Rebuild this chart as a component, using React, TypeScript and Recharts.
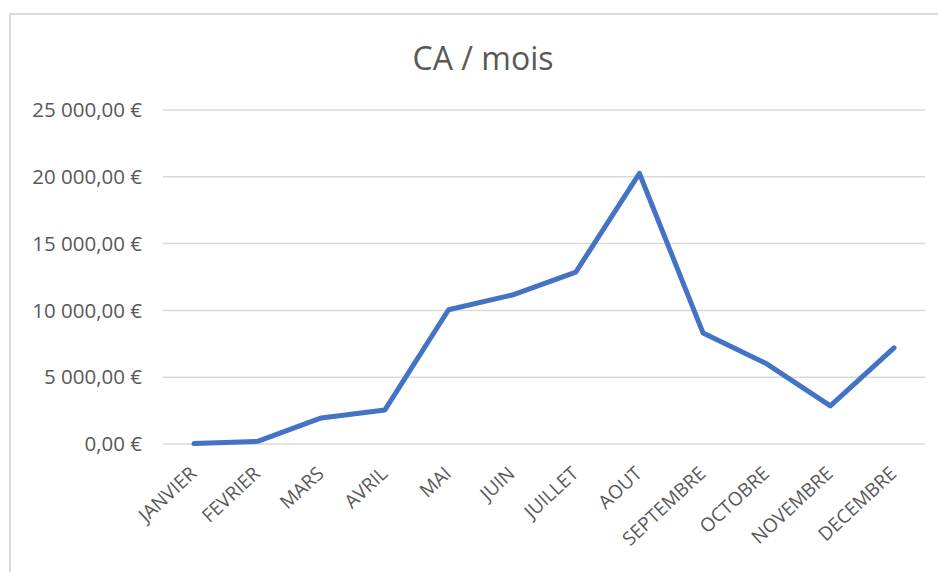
import React from "react";
import { LineChart, Line, XAxis, YAxis, CartesianGrid } from "recharts";

const months = ["JANVIER", "FEVRIER", "MARS", "AVRIL", "MAI", "JUIN", "JUILLET", "AOUT", "SEPTEMBRE", "OCTOBRE", "NOVEMBRE", "DECEMBRE"];
const revenue = [30, 200, 1950, 2550, 10050, 11150, 12870, 20250, 8300, 6000, 2850, 7200];
const yTicks = [0, 5000, 10000, 15000, 20000, 25000];
const title = "CA / mois";

const data = months.map((m, i) => ({ month: m, ca: revenue[i] }));

const fmt = (v: number) => {
  const s = v.toFixed(2).replace(".", ",");
  const [int, dec] = s.split(",");
  const grouped = int.replace(/\B(?=(\d{3})+(?!\d))/g, "\u00a0");
  return `${grouped},${dec}\u00a0€`;
};

const FONT = "'Open Sans', sans-serif";
const GREY = "#595959";

const XTick = (props: any) => {
  const { x, y, payload } = props;
  const tx = x - 1;
  const ty = y + 18;
  return (
    <text
      x={tx}
      y={ty}
      transform={`rotate(-43, ${tx}, ${ty})`}
      textAnchor="end"
      fontFamily={FONT}
      fontSize={19}
      fill={GREY}
      dominantBaseline="central"
    >
      {payload.value}
    </text>
  );
};

export default function App() {
  return (
    <div style={{ position: "absolute", left: 0, top: 0, width: 938, height: 572, background: "#fff", overflow: "hidden" }}>
      <div style={{ position: "absolute", left: 9, top: 13, width: 940, height: 580, borderTop: "2px solid #d9d9d9", borderLeft: "2px solid #d9d9d9" }} />
      <div style={{ position: "absolute", left: 283, width: 400, top: 36, textAlign: "center", fontFamily: FONT, fontSize: 32, color: GREY, lineHeight: "44px" }}>
        {title}
      </div>
      <div style={{ position: "absolute", left: 0, top: 0 }}>
        <LineChart width={938} height={572} data={data} margin={{ top: 110, right: 13, left: 0, bottom: 10 }}>
          <CartesianGrid vertical={false} stroke="#d9d9d9" strokeWidth={1.5} />
          <XAxis dataKey="month" axisLine={false} tickLine={false} height={118} tick={<XTick />} interval={0} padding={{ left: 31, right: 31 }} />
          <YAxis
            domain={[0, 25000]}
            ticks={yTicks}
            width={163}
            axisLine={false}
            tickLine={false}
            tickSize={0}
            tickMargin={21}
            tickFormatter={fmt}
            tick={{ fontFamily: FONT, fontSize: 20.5, fill: GREY }}
            interval={0}
          />
          <Line type="linear" dataKey="ca" stroke="#4472C4" strokeWidth={5} dot={false} isAnimationActive={false} strokeLinejoin="round" strokeLinecap="round" />
        </LineChart>
      </div>
    </div>
  );
}
